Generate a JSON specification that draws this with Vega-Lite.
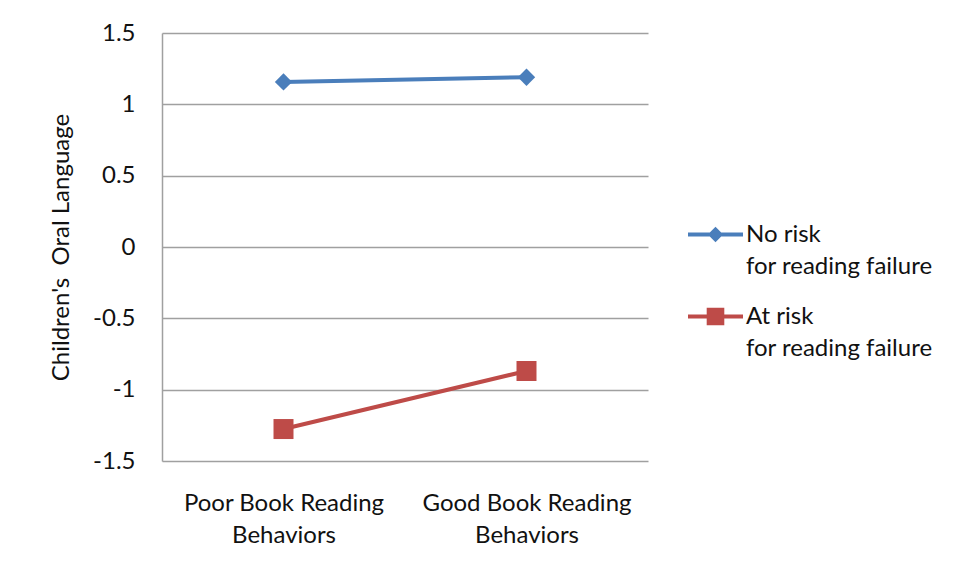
{
  "$schema": "https://vega.github.io/schema/vega-lite/v6.json",
  "width": 486,
  "height": 428,
  "autosize": {"type": "none"},
  "padding": {"left": 162, "top": 33, "right": 308, "bottom": 114},
  "background": "white",
  "config": {
    "view": {"stroke": null},
    "font": "Lato",
    "axis": {"labelFont": "Lato", "titleFont": "Lato", "labelColor": "#111111", "titleColor": "#111111"},
    "legend": {"labelFont": "Lato", "labelColor": "#111111"}
  },
  "data": {
    "values": [
      {"behavior": "Poor Book Reading Behaviors", "group": "No risk for reading failure", "oral": 1.157},
      {"behavior": "Good Book Reading Behaviors", "group": "No risk for reading failure", "oral": 1.19},
      {"behavior": "Poor Book Reading Behaviors", "group": "At risk for reading failure", "oral": -1.276},
      {"behavior": "Good Book Reading Behaviors", "group": "At risk for reading failure", "oral": -0.869}
    ]
  },
  "encoding": {
    "x": {
      "field": "behavior",
      "type": "nominal",
      "sort": ["Poor Book Reading Behaviors", "Good Book Reading Behaviors"],
      "scale": {"type": "point", "padding": 0.5},
      "axis": {
        "title": null,
        "domain": false,
        "ticks": false,
        "tickSize": 0,
        "grid": false,
        "labelAngle": 0,
        "labelFontSize": 24,
        "labelLineHeight": 32,
        "labelBaseline": "middle",
        "labelPadding": 42,
        "labelLimit": 400,
        "labelExpr": "[replace(datum.value, ' Behaviors', ''), 'Behaviors']"
      }
    },
    "y": {
      "field": "oral",
      "type": "quantitative",
      "scale": {"domain": [-1.5, 1.5], "nice": false, "zero": false},
      "axis": {
        "title": "Children's\u00a0\u00a0Oral Language",
        "titleFontSize": 24,
        "titleFontWeight": "normal",
        "titleX": -101,
        "titleBaseline": "middle",
        "values": [-1.5, -1, -0.5, 0, 0.5, 1, 1.5],
        "labelExpr": "toString(datum.value)",
        "labelFontSize": 24,
        "labelPadding": 27,
        "ticks": false,
        "tickSize": 0,
        "domain": true,
        "domainColor": "#a0a0a0",
        "domainWidth": 1.5,
        "grid": true,
        "gridColor": "#a0a0a0",
        "gridWidth": 1.5
      }
    },
    "color": {
      "field": "group",
      "type": "nominal",
      "sort": ["No risk for reading failure", "At risk for reading failure"],
      "scale": {"domain": ["No risk for reading failure", "At risk for reading failure"], "range": ["#4a7ebb", "#be4b48"]},
      "legend": {
        "title": null,
        "orient": "none",
        "legendX": 526,
        "legendY": 174,
        "padding": 0,
        "symbolSize": 3025,
        "symbolStrokeWidth": 0,
        "labelFontSize": 24,
        "labelBaseline": "middle",
        "labelOffset": 3,
        "labelLimit": 400,
        "rowPadding": 10,
        "labelExpr": "[replace(datum.label, ' for reading failure', ''), 'for reading failure']",
        "encode": {
          "labels": {"update": {"lineHeight": {"value": 32}}},
          "symbols": {
            "update": {
              "shape": {"signal": "datum.value == 'No risk for reading failure' ? 'M-1,-0.075H1V0.075H-1Z M0,-0.28L0.28,0L0,0.28L-0.28,0Z' : 'M-1,-0.075H1V0.075H-1Z M-0.32,-0.32H0.32V0.32H-0.32Z'"},
              "size": {"value": 3025},
              "fill": {"scale": "color", "field": "value"},
              "fillOpacity": {"value": 1},
              "opacity": {"value": 1},
              "strokeWidth": {"value": 0}
            }
          }
        }
      }
    }
  },
  "layer": [
    {
      "mark": {"type": "line", "strokeWidth": 4}
    },
    {
      "transform": [{"filter": "datum.group == 'No risk for reading failure'"}],
      "mark": {"type": "point", "filled": true, "opacity": 1, "shape": "diamond", "size": 300}
    },
    {
      "transform": [{"filter": "datum.group == 'At risk for reading failure'"}],
      "mark": {"type": "point", "filled": true, "opacity": 1, "shape": "square", "size": 400}
    }
  ]
}
